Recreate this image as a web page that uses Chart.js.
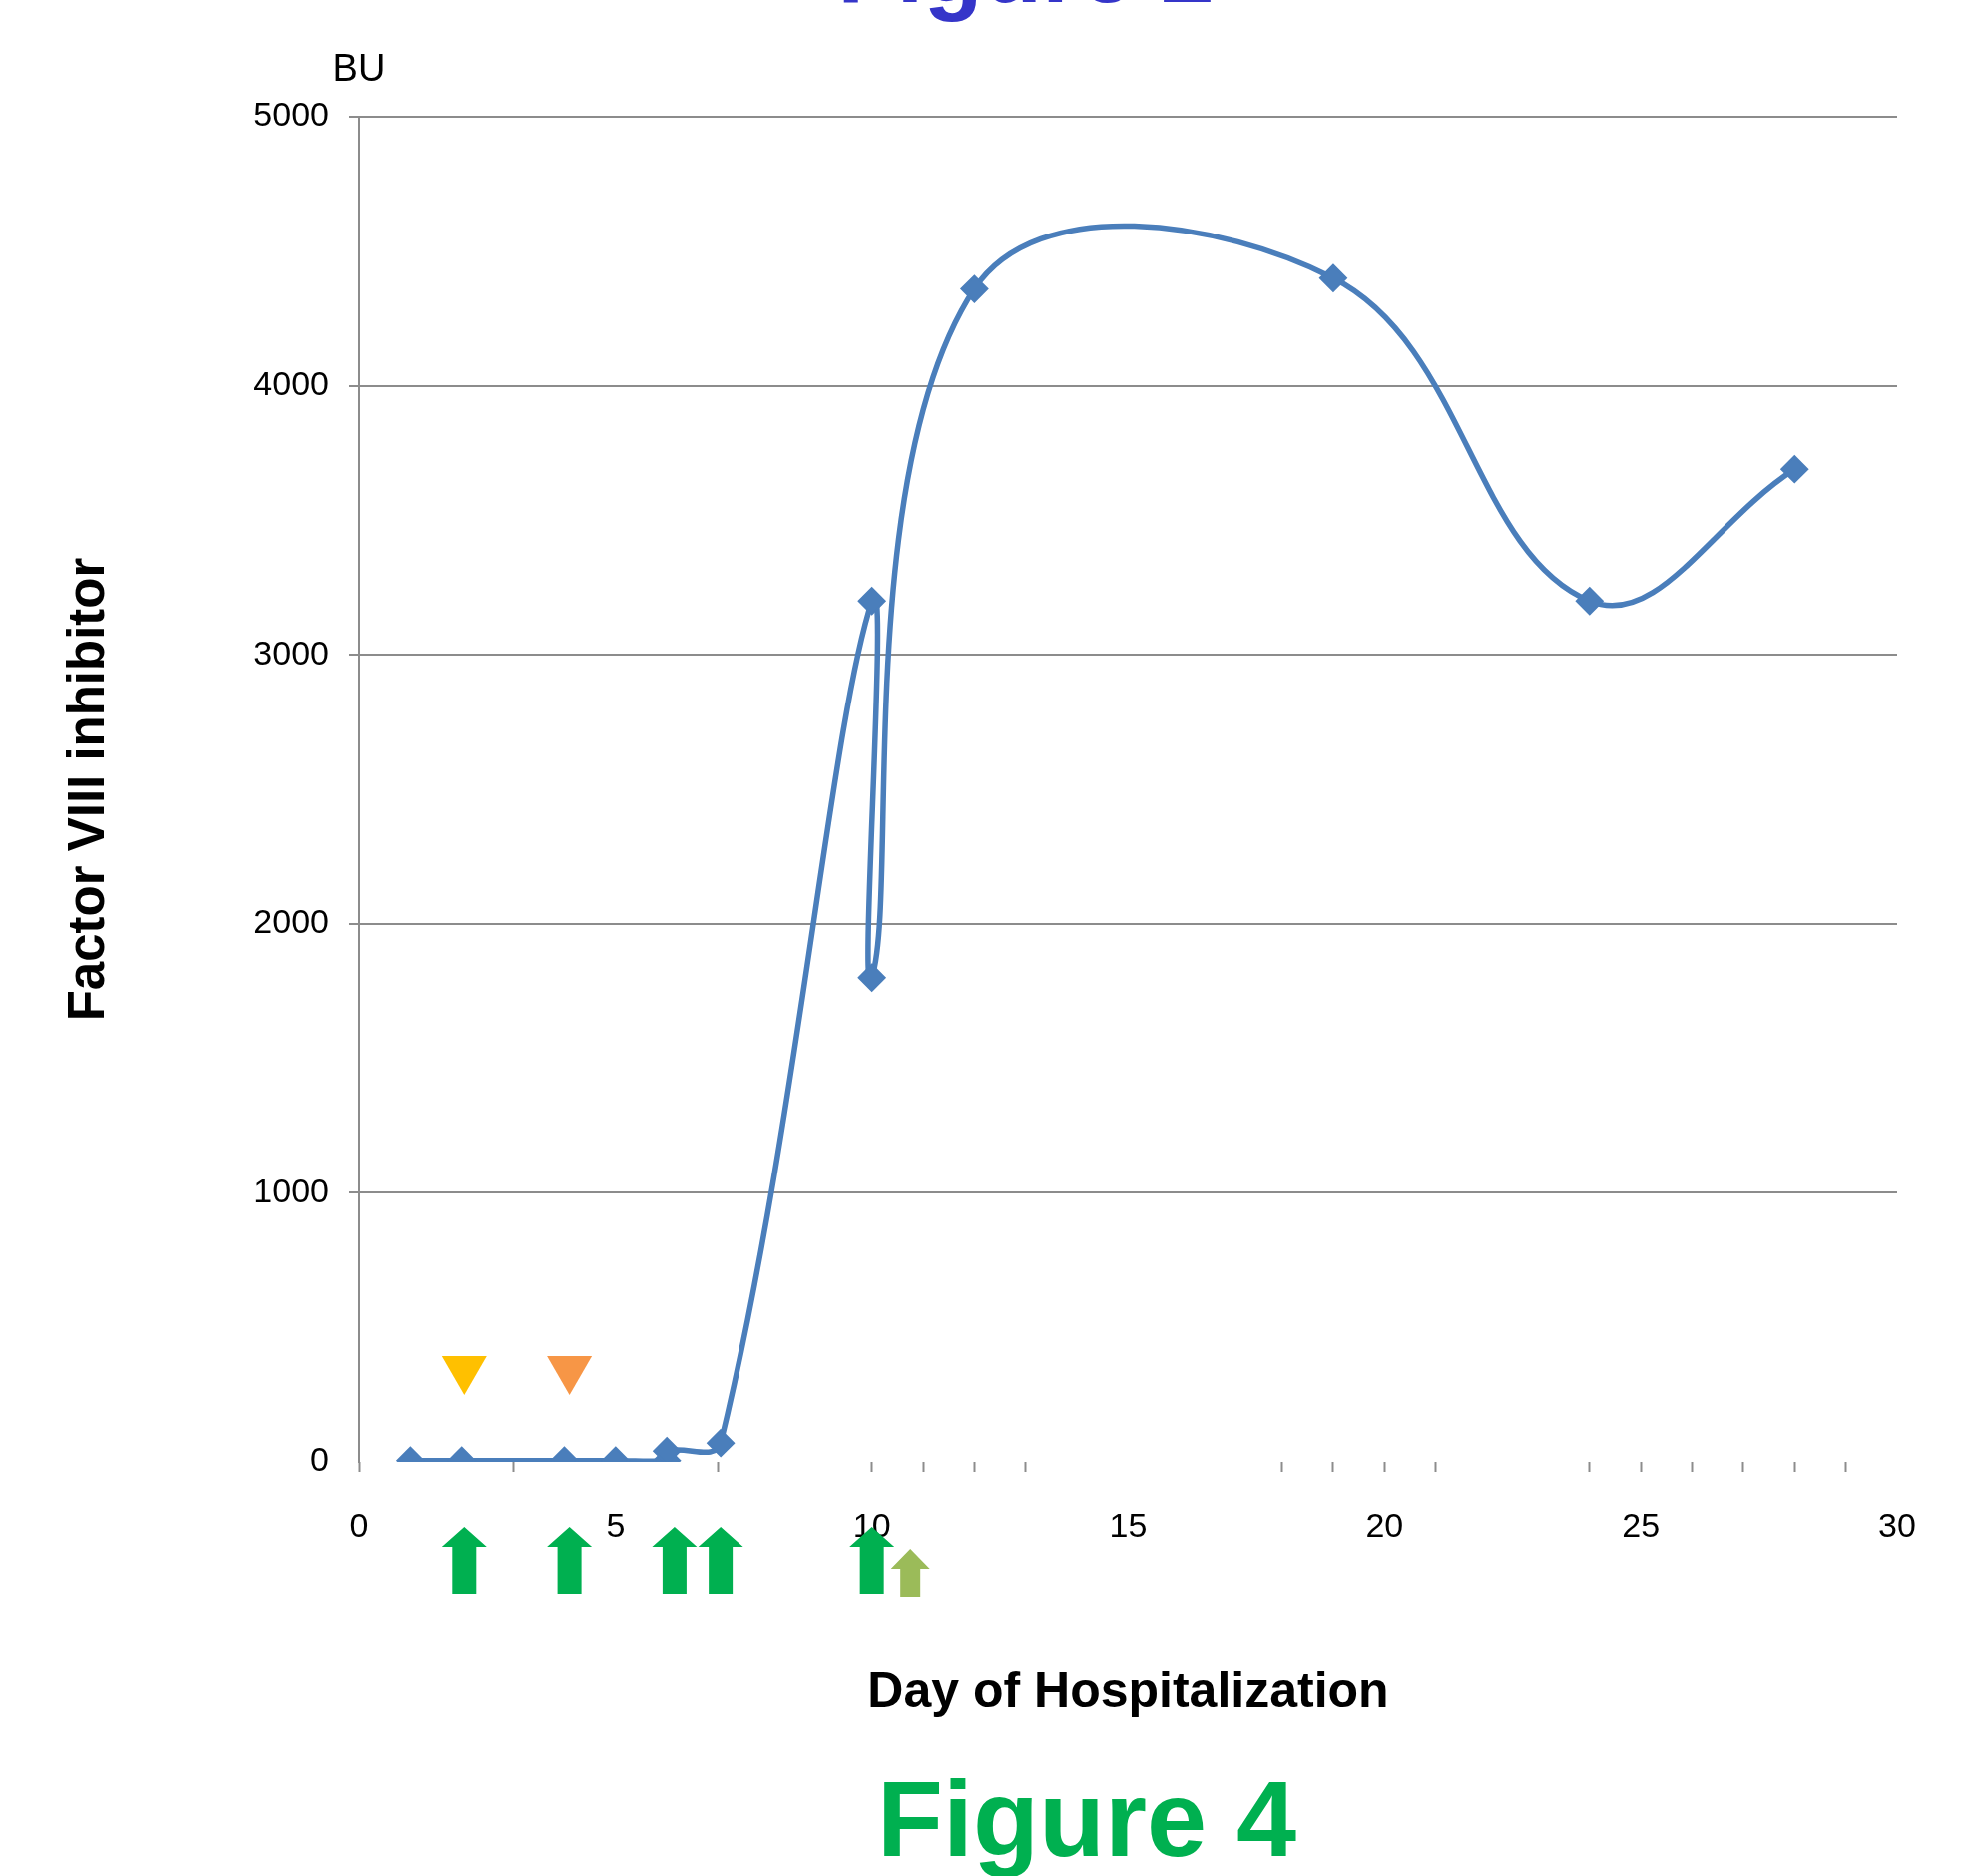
<!DOCTYPE html>
<html>
<head>
<meta charset="utf-8">
<title>Figure 4</title>
<script src="https://cdn.jsdelivr.net/npm/chart.js@4.4.0/dist/chart.umd.min.js"></script>
<style>
  html, body { margin: 0; padding: 0; background: #fff; }
  #wrap { width: 1975px; height: 1880px; }
</style>
</head>
<body>
<div id="wrap"><canvas id="grafico" width="1975" height="1880"></canvas></div>
<script>
// Datos (día de hospitalización, BU)
const dias = [1, 2, 4, 5, 6, 6, 7.05, 10, 10, 12, 19, 24, 28];
const inhibidor = [5, 5, 5, 5, 5, 40, 70, 3200, 1800, 4360, 4400, 3200, 3690];

// Triángulos (hacia abajo) sobre la curva
const diasTriangulos = [2.05, 4.1];
const valoresTriangulos = [345, 345];

// Flechas bajo el eje x
const diasFlechas = [2.05, 4.1, 6.15, 7.05, 10];
const diasFlechaClara = [10.75];

// Marcas y etiquetas de los ejes
const marcasX = [0, 3, 7, 10, 11, 12, 13, 18, 19, 20, 21, 24, 25, 26, 27, 28, 29];
const etiquetasX = [0, 5, 10, 15, 20, 25, 30];
const ticksY = [0, 1000, 2000, 3000, 4000, 5000];

const azul = '#4A7EBB';
const gris = '#8C8C8C';
const fuente = '"Liberation Sans", Arial, sans-serif';

Chart.defaults.font.family = fuente;
Chart.defaults.color = '#000';

// Dibuja una flecha hacia arriba
function flecha(ctx, cx, punta, cabeza, largo, anchoCabeza, anchoCuerpo, color) {
    ctx.fillStyle = color;
    ctx.beginPath();
    ctx.moveTo(cx, punta);
    ctx.lineTo(cx + anchoCabeza, punta + cabeza);
    ctx.lineTo(cx + anchoCuerpo, punta + cabeza);
    ctx.lineTo(cx + anchoCuerpo, punta + largo);
    ctx.lineTo(cx - anchoCuerpo, punta + largo);
    ctx.lineTo(cx - anchoCuerpo, punta + cabeza);
    ctx.lineTo(cx - anchoCabeza, punta + cabeza);
    ctx.closePath();
    ctx.fill();
}

const extras = {
    id: 'extras',
    afterDraw(chart) {
        const { ctx, scales: { x, y } } = chart;
        const base = y.getPixelForValue(0);
        ctx.save();

        diasFlechas.forEach(d => {
            flecha(ctx, x.getPixelForValue(d), base + 65, 20, 67, 22.5, 12, '#00B050');
        });
        diasFlechaClara.forEach(d => {
            flecha(ctx, x.getPixelForValue(d), base + 87, 20, 48, 19.5, 10, '#9BBB59');
        });

        // unidad del eje y
        ctx.fillStyle = '#000';
        ctx.font = '38px ' + fuente;
        ctx.textAlign = 'center';
        ctx.textBaseline = 'alphabetic';
        ctx.fillText('BU', chart.chartArea.left, 81);

        // título cortado arriba
        ctx.fillStyle = '#3535C9';
        ctx.font = 'bold 97px ' + fuente;
        ctx.fillText('Figure 2', 1028, 2);

        // pie de figura
        ctx.fillStyle = '#00B050';
        ctx.font = 'bold 108px ' + fuente;
        ctx.textAlign = 'left';
        ctx.fillText('Figure 4', 879, 1860);

        ctx.restore();
    }
};

const canvas = document.getElementById('grafico');
const ctx = canvas.getContext('2d');

new Chart(ctx, {
    type: 'line',
    data: {
        datasets: [
            {
                data: dias.map((d, i) => ({ x: d, y: inhibidor[i] })),
                borderColor: azul,
                borderWidth: 5.5,
                tension: 0.4,
                fill: false,
                pointStyle: 'rectRot',
                pointRadius: 13,
                pointBackgroundColor: azul,
                pointBorderColor: azul,
                pointBorderWidth: 2
            },
            {
                data: diasTriangulos.map((d, i) => ({ x: d, y: valoresTriangulos[i] })),
                showLine: false,
                pointStyle: 'triangle',
                pointRotation: 180,
                pointRadius: 26,
                pointBackgroundColor: ['#FFC000', '#F79646'],
                pointBorderWidth: 0
            }
        ]
    },
    plugins: [extras],
    options: {
        responsive: false,
        animation: false,
        devicePixelRatio: 1,
        layout: { padding: { left: 0, top: 117, right: 74, bottom: 0 } },
        plugins: {
            legend: { display: false },
            tooltip: { enabled: false }
        },
        scales: {
            x: {
                type: 'linear',
                min: 0,
                max: 30,
                afterFit: s => { s.height = 415; },
                ticks: {
                    stepSize: 1,
                    autoSkip: false,
                    maxRotation: 0,
                    padding: 35,
                    color: '#000',
                    font: { size: 34 },
                    callback: v => etiquetasX.includes(v) ? String(v) : ''
                },
                grid: {
                    drawOnChartArea: false,
                    tickLength: 10,
                    tickWidth: 2,
                    tickColor: c => (c.tick && marcasX.includes(c.tick.value)) ? gris : 'rgba(0,0,0,0)'
                },
                border: { display: false },
                title: {
                    display: true,
                    text: 'Day of Hospitalization',
                    color: '#000',
                    font: { size: 50, weight: 'bold' },
                    padding: { top: 0, bottom: 153 }
                }
            },
            y: {
                min: 0,
                max: 5000,
                afterFit: s => { s.width = 360; },
                afterBuildTicks: s => { s.ticks = ticksY.map(v => ({ value: v })); },
                ticks: {
                    padding: 20,
                    color: '#000',
                    font: { size: 34 },
                    callback: v => String(v)
                },
                grid: {
                    color: c => (c.tick && c.tick.value === 0) ? 'rgba(0,0,0,0)' : gris,
                    lineWidth: 2,
                    tickLength: 10
                },
                border: { display: true, color: gris, width: 2 },
                title: {
                    display: true,
                    text: 'Factor VIII inhibitor',
                    color: '#000',
                    font: { size: 51, weight: 'bold' },
                    padding: { top: 59, bottom: 0 }
                }
            }
        }
    }
});
</script>
</body>
</html>
